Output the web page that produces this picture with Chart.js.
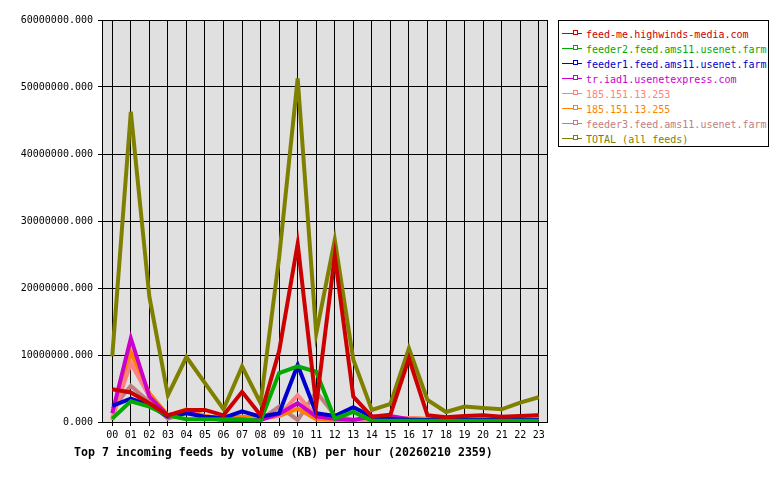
<!DOCTYPE html>
<html>
<head>
<meta charset="utf-8">
<script src="https://cdn.jsdelivr.net/npm/chart.js@4.4.0/dist/chart.umd.min.js"></script>
<style>
  html, body { margin: 0; padding: 0; background: #fff; }
  #wrap { position: relative; width: 780px; height: 480px; }
  #wrap canvas { position: absolute; left: 0; top: 0; }
  #legend {
    position: absolute; left: 558px; top: 20px; width: 211px; height: 127px;
    border: 1px solid #000; background: #fff; box-sizing: border-box;
    font: 10px "DejaVu Sans Mono", monospace;
  }
  .item { position: absolute; left: 3px; height: 15px; line-height: 15px; white-space: nowrap; }
  .mark { position: absolute; left: 0; top: 6px; width: 20px; height: 1px; }
  .mark i { position: absolute; left: 11px; top: -3px; width: 3px; height: 3px; border: 1px solid; background: #fff; }
  .item span { position: absolute; left: 24px; top: 0; }
  #caption {
    position: absolute; left: 74px; top: 445px;
    font: bold 11.6px "DejaVu Sans Mono", monospace; color: #000; white-space: nowrap;
  }
</style>
</head>
<body>
<div id="wrap">
  <canvas id="feedChart" width="780" height="480"></canvas>
  <div id="legend"></div>
  <div id="caption">Top 7 incoming feeds by volume (KB) per hour (20260210 2359)</div>
</div>
<script>
// ── hours of the day ──
const hours = ['00','01','02','03','04','05','06','07','08','09','10','11',
               '12','13','14','15','16','17','18','19','20','21','22','23'];

// ── feed names and colours ──
const feedNames = [
  'feed-me.highwinds-media.com',
  'feeder2.feed.ams11.usenet.farm',
  'feeder1.feed.ams11.usenet.farm',
  'tr.iad1.usenetexpress.com',
  '185.151.13.253',
  '185.151.13.255',
  'feeder3.feed.ams11.usenet.farm',
  'TOTAL (all feeds)'
];
const feedColors = ['#cc0000', '#00aa00', '#0000cc', '#cc00cc', '#ff8080', '#ff8000', '#c08080', '#808000'];

// ── volume per hour (KB) ──
const highwinds = [4900000, 4400000, 2800000, 1000000, 1800000, 1800000, 1000000, 4500000, 1000000, 10600000, 26600000, 2500000,
                   24800000, 3800000, 800000, 1100000, 9500000, 1000000, 700000, 900000, 1000000, 800000, 900000, 1000000];
const feeder2   = [500000, 3100000, 2300000, 1000000, 400000, 400000, 400000, 400000, 200000, 7300000, 8300000, 7500000,
                   500000, 1500000, 200000, 200000, 200000, 200000, 200000, 200000, 200000, 200000, 200000, 200000];
const feeder1   = [2400000, 3500000, 2500000, 800000, 1300000, 800000, 600000, 1600000, 800000, 1300000, 8500000, 1300000,
                   900000, 2200000, 800000, 500000, 300000, 300000, 300000, 300000, 300000, 300000, 300000, 300000];
const iad1      = [1300000, 12500000, 3800000, 1000000, 1600000, 600000, 300000, 300000, 300000, 1200000, 2800000, 800000,
                   500000, 300000, 800000, 900000, 400000, 300000, 300000, 300000, 300000, 300000, 300000, 300000];
const ip253     = [600000, 8800000, 3800000, 1000000, 1600000, 800000, 400000, 400000, 400000, 1000000, 4000000, 800000,
                   500000, 300000, 300000, 300000, 600000, 400000, 400000, 400000, 400000, 400000, 400000, 400000];
const ip255     = [300000, 10400000, 4300000, 1000000, 1900000, 900000, 500000, 800000, 600000, 900000, 2000000, 400000,
                   300000, 300000, 300000, 300000, 600000, 500000, 500000, 600000, 700000, 700000, 800000, 1000000];
const feeder3   = [2000000, 5400000, 3000000, 500000, 1400000, 900000, 300000, 800000, 300000, 2300000, 300000, 4500000,
                   1000000, 300000, 200000, 200000, 200000, 200000, 200000, 200000, 200000, 200000, 200000, 200000];
const total     = [9800000, 46300000, 18700000, 4000000, 9700000, 5800000, 1900000, 8300000, 2800000, 24600000, 51300000, 13200000,
                   27200000, 9300000, 1800000, 2700000, 11000000, 3300000, 1500000, 2300000, 2100000, 1900000, 2900000, 3700000];

const feedValues = [highwinds, feeder2, feeder1, iad1, ip253, ip255, feeder3, total];

// ── plot background and frame ──
const plotFrame = {
  id: 'plotFrame',
  beforeDraw(chart) {
    const { ctx, chartArea: a } = chart;
    ctx.save();
    ctx.fillStyle = '#e0e0e0';
    ctx.fillRect(a.left, a.top, a.right - a.left, a.bottom - a.top);
    ctx.restore();
  },
  afterDraw(chart) {
    const { ctx, chartArea: a } = chart;
    ctx.save();
    ctx.strokeStyle = '#000';
    ctx.lineWidth = 1;
    ctx.strokeRect(a.left - 0.5, a.top + 0.5, a.right - a.left, a.bottom - a.top);
    ctx.restore();
  }
};

const mono = { family: '"DejaVu Sans Mono", monospace', size: 10 };

new Chart(document.getElementById('feedChart'), {
  type: 'line',
  data: {
    labels: hours,
    datasets: feedNames.map((name, i) => ({
      label: name,
      data: feedValues[i],
      borderColor: feedColors[i],
      borderWidth: 4,
      pointRadius: 0,
      tension: 0,
      fill: false
    }))
  },
  options: {
    responsive: false,
    animation: false,
    devicePixelRatio: 1,
    layout: { padding: { left: 0, right: 232, top: 20, bottom: 0 } },
    plugins: {
      legend: { display: false },
      tooltip: { enabled: false }
    },
    scales: {
      x: {
        offset: true,
        grid: { color: '#000', lineWidth: 1, offset: false, tickLength: 4 },
        border: { display: false },
        ticks: { color: '#000', font: mono, padding: 3, maxRotation: 0, autoSkip: false },
        afterFit: s => { s.height = 58; }
      },
      y: {
        min: 0,
        max: 60000000,
        grid: { color: '#000', lineWidth: 1, tickLength: 5 },
        border: { display: false },
        ticks: { color: '#000', font: mono, padding: 5, stepSize: 10000000, callback: v => v.toFixed(3) },
        afterFit: s => { s.width = 103; }
      }
    }
  },
  plugins: [plotFrame]
});

// ── legend box ──
const legendEl = document.getElementById('legend');
feedNames.forEach((name, i) => {
  const row = document.createElement('div');
  row.className = 'item';
  row.style.top = (6 + i * 15) + 'px';
  row.style.color = feedColors[i];
  row.innerHTML = `<div class="mark" style="background:${feedColors[i]}"><i style="border-color:${feedColors[i]}"></i></div><span>${name}</span>`;
  legendEl.appendChild(row);
});
</script>
</body>
</html>
